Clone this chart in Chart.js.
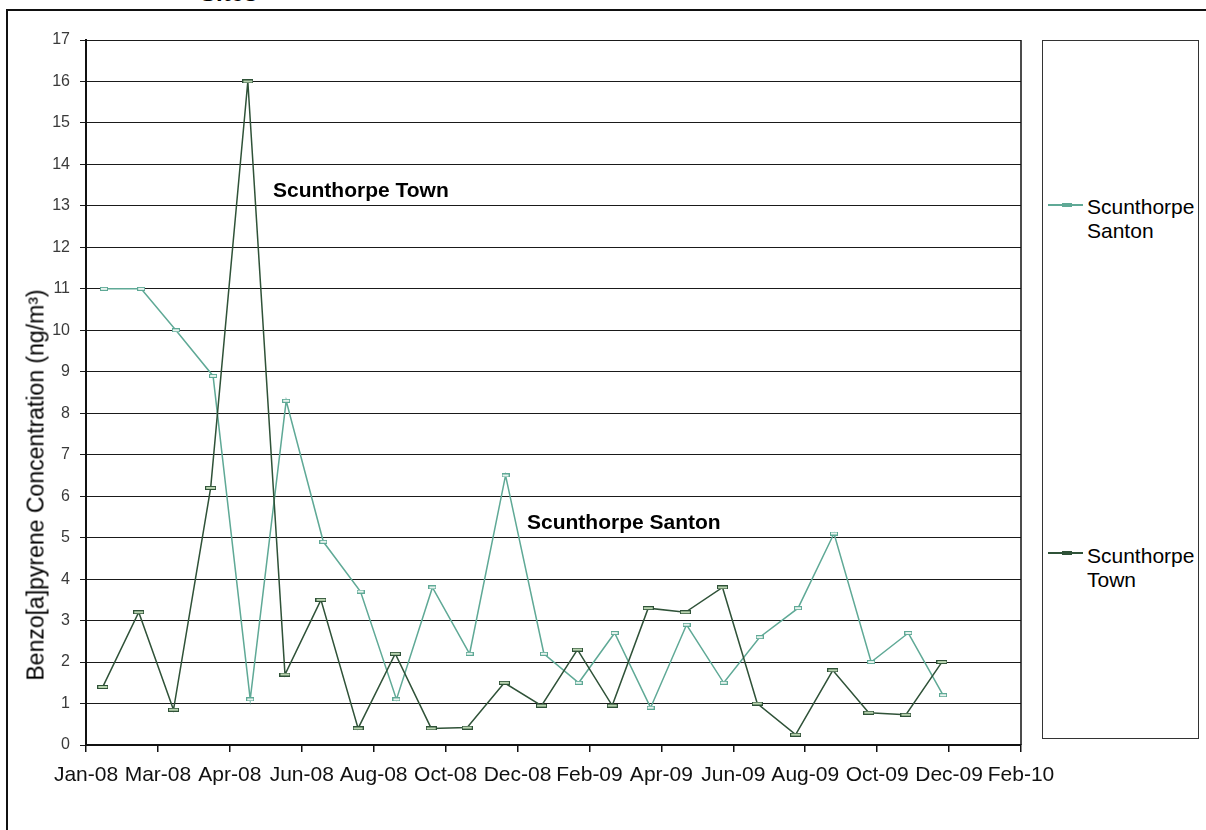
<!DOCTYPE html>
<html>
<head>
<meta charset="utf-8">
<script src="https://cdn.jsdelivr.net/npm/chart.js@4.4.1/dist/chart.umd.min.js"></script>
<style>
    html, body { margin: 0; padding: 0; background: #fff; }
    body { width: 1206px; height: 830px; overflow: hidden; position: relative; font-family: Arial, "Liberation Sans", sans-serif; }
    #moldura { position: absolute; left: 6px; top: 9px; width: 1300px; height: 1000px; border: 2px solid #111; }
    #grafico { position: absolute; left: 0; top: 0; }
    .titulo-topo { position: absolute; left: 200px; top: -21px; font-size: 24px; font-weight: bold; line-height: 28px; color: #000; }
    .eixo-y { position: absolute; left: 36px; top: 485px; transform: translate(-50%, -50%) rotate(-90deg); font-size: 23px; white-space: nowrap; color: #000; }
    .anotacao { position: absolute; font-size: 21px; font-weight: bold; line-height: 24px; white-space: nowrap; color: #000; }
    #legenda { position: absolute; left: 1042px; top: 40px; width: 155px; height: 697px; border: 1px solid #333; background: #fff; }
    .leg-linha { position: absolute; left: 5px; width: 35px; height: 0; border-top: 2px solid; }
    .leg-marca { position: absolute; left: 14px; top: -3px; width: 8px; height: 2px; border: 1px solid; }
    .leg-texto { position: absolute; left: 44px; font-size: 21px; line-height: 24px; color: #000; }
</style>
</head>
<body>
<div id="moldura"></div>
<div class="titulo-topo">Sites</div>
<canvas id="grafico" width="1206" height="830"></canvas>
<div class="eixo-y">Benzo[a]pyrene Concentration (ng/m³)</div>
<div class="anotacao" style="left:273px; top:178px;">Scunthorpe Town</div>
<div class="anotacao" style="left:527px; top:510px;">Scunthorpe Santon</div>
<div id="legenda"></div>

<script>
// --- DADOS (dias contados a partir de 1 jan 2008) ---
const santonDias = [15, 46, 75, 106, 137, 167, 198, 229, 259, 289, 320, 350, 382, 411, 441, 471, 501, 532, 562, 594, 624, 655, 686, 715];
const santonValores = [11, 11, 10, 8.9, 1.1, 8.3, 4.9, 3.7, 1.1, 3.8, 2.2, 6.5, 2.2, 1.5, 2.7, 0.9, 2.9, 1.5, 2.6, 3.3, 5.1, 2.0, 2.7, 1.2];

const townDias = [14, 44, 73, 104, 135, 166, 196, 227, 258, 288, 318, 349, 380, 410, 439, 469, 500, 531, 560, 592, 623, 653, 684, 714];
const townValores = [1.4, 3.2, 0.85, 6.2, 16, 1.7, 3.5, 0.4, 2.2, 0.4, 0.42, 1.5, 0.95, 2.3, 0.95, 3.3, 3.2, 3.8, 1.0, 0.25, 1.8, 0.78, 0.73, 2.0];

const series = ['Scunthorpe Santon', 'Scunthorpe Town'];
const mesesAbrev = ['Jan', 'Feb', 'Mar', 'Apr', 'May', 'Jun', 'Jul', 'Aug', 'Sep', 'Oct', 'Nov', 'Dec'];

// eixo x: marcas a cada 60 dias, de Jan-08 a Feb-10
const xMin = 0, xMax = 780, xPasso = 60;
const yMin = 0, yMax = 17;

const corSanton = '#5fa996';
const corTown = '#2f5238';

document.addEventListener('DOMContentLoaded', () => {

    // marcador em forma de traço (como no Excel)
    function criarMarcador(largura, altura, borda, preenchimento) {
        const c = document.createElement('canvas');
        c.width = largura;
        c.height = altura;
        const g = c.getContext('2d');
        g.fillStyle = borda;
        g.fillRect(0, 0, largura, altura);
        g.fillStyle = preenchimento;
        g.fillRect(1, 1, largura - 2, altura - 2);
        return c;
    }

    function rotuloData(v) {
        const d = new Date(2008, 0, 1 + v);
        return mesesAbrev[d.getMonth()] + '-' + String(d.getFullYear()).slice(2);
    }

    // borda direita da área do gráfico
    const bordaDireita = {
        id: 'bordaDireita',
        afterDraw(chart) {
            const a = chart.chartArea;
            const ctx = chart.ctx;
            ctx.save();
            ctx.strokeStyle = '#111';
            ctx.lineWidth = 1.5;
            ctx.beginPath();
            ctx.moveTo(a.right, a.top);
            ctx.lineTo(a.right, a.bottom);
            ctx.stroke();
            ctx.restore();
        }
    };

    new Chart(document.getElementById('grafico'), {
        type: 'line',
        data: {
            datasets: [
                {
                    label: series[0],
                    data: santonDias.map((d, i) => ({ x: d, y: santonValores[i] })),
                    borderColor: corSanton,
                    borderWidth: 1.5,
                    pointStyle: criarMarcador(8, 4, corSanton, '#e8f4ef'),
                    pointRadius: 4,
                    order: 1,
                    tension: 0
                },
                {
                    label: series[1],
                    data: townDias.map((d, i) => ({ x: d, y: townValores[i] })),
                    borderColor: corTown,
                    borderWidth: 1.5,
                    pointStyle: criarMarcador(11, 4, corTown, '#b9d4b0'),
                    pointRadius: 5,
                    order: 0,
                    tension: 0
                }
            ]
        },
        options: {
            responsive: false,
            animation: false,
            events: [],
            layout: { padding: { top: 40, right: 185, left: 0, bottom: 0 } },
            plugins: {
                legend: { display: false },
                tooltip: { enabled: false }
            },
            scales: {
                x: {
                    type: 'linear',
                    min: xMin,
                    max: xMax,
                    afterFit: (s) => { s.height = 85; },
                    afterBuildTicks: (s) => {
                        s.ticks = [];
                        for (let v = xMin; v <= xMax; v += xPasso) s.ticks.push({ value: v });
                    },
                    grid: { drawOnChartArea: false, drawTicks: true, tickLength: 7, color: '#111', lineWidth: 1.5 },
                    border: { display: true, color: '#111', width: 2 },
                    ticks: {
                        autoSkip: false,
                        maxRotation: 0,
                        padding: 11,
                        color: '#111',
                        font: { family: 'Arial, "Liberation Sans"', size: 21 },
                        callback: (v) => rotuloData(v)
                    }
                },
                y: {
                    min: yMin,
                    max: yMax,
                    afterFit: (s) => { s.width = 86; },
                    grid: { color: '#1a1a1a', lineWidth: 1, tickLength: 6, drawTicks: true },
                    border: { display: true, color: '#111', width: 2 },
                    ticks: {
                        stepSize: 1,
                        padding: 10,
                        color: '#3a3a3a',
                        font: { family: 'Arial, "Liberation Sans"', size: 16 }
                    }
                }
            }
        },
        plugins: [bordaDireita]
    });

    // --- LEGENDA EM CAIXA À DIREITA ---
    const legenda = document.getElementById('legenda');
    const itens = [
        { nome: ['Scunthorpe', 'Santon'], cor: corSanton, linhaY: 163, textoY: 154 },
        { nome: ['Scunthorpe', 'Town'], cor: corTown, linhaY: 511, textoY: 503 }
    ];
    itens.forEach(item => {
        legenda.innerHTML += `
            <div class="leg-linha" style="top:${item.linhaY}px; border-color:${item.cor};">
                <div class="leg-marca" style="border-color:${item.cor}; background:${item.cor};"></div>
            </div>
            <div class="leg-texto" style="top:${item.textoY}px;">${item.nome[0]}<br>${item.nome[1]}</div>
        `;
    });
});
</script>
</body>
</html>
